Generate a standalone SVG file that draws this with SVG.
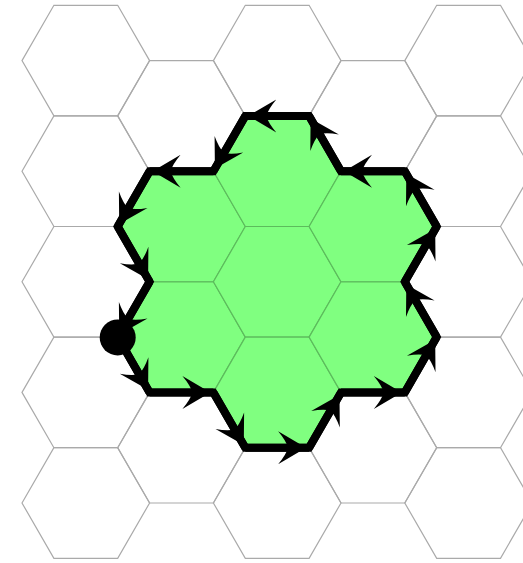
<svg xmlns="http://www.w3.org/2000/svg" xmlns:xlink="http://www.w3.org/1999/xlink" width="523" height="563" viewBox="0 0 523 563">
<style>
.cell{fill:none;stroke:#aaaaaa;stroke-width:1.2}
.green{fill:#80ff80;stroke:#5cbc5c;stroke-width:1.2}
.edge{stroke:#000;stroke-width:8;stroke-linecap:butt;marker-end:url(#ah)}
.outline{fill:none;stroke:#000;stroke-width:8;stroke-linejoin:miter}
</style>
<defs>
<polygon id="hx" points="-63.8,0 -31.9,-55.3 31.9,-55.3 63.8,0 31.9,55.3 -31.9,55.3"/>
<marker id="ah" markerUnits="userSpaceOnUse" orient="auto" refX="3" refY="0" markerWidth="10" markerHeight="10" overflow="visible">
<path d="M0,0 L-28,-16.5 Q-20,-7 -18,0 Q-20,7 -28,16.5 Z" fill="#000"/>
</marker>
</defs>
<rect width="523" height="563" fill="#fff"/>
<g id="grid">
<g id="h0-0"><use xlink:href="#hx" href="#hx" x="85.8" y="60.6" class="cell"/></g>
<g id="h0-1"><use href="#hx" x="85.8" y="171.2" class="cell"/></g>
<g id="h0-2"><use href="#hx" x="85.8" y="281.8" class="cell"/></g>
<g id="h0-3"><use href="#hx" x="85.8" y="392.4" class="cell"/></g>
<g id="h0-4"><use href="#hx" x="85.8" y="503" class="cell"/></g>
<g id="h1-0"><use href="#hx" x="181.5" y="115.9" class="cell"/></g>
<g id="h1-3"><use href="#hx" x="181.5" y="447.7" class="cell"/></g>
<g id="h2-0"><use href="#hx" x="277.2" y="60.6" class="cell"/></g>
<g id="h2-4"><use href="#hx" x="277.2" y="503" class="cell"/></g>
<g id="h3-0"><use href="#hx" x="372.9" y="115.9" class="cell"/></g>
<g id="h3-3"><use href="#hx" x="372.9" y="447.7" class="cell"/></g>
<g id="h4-0"><use href="#hx" x="468.6" y="60.6" class="cell"/></g>
<g id="h4-1"><use href="#hx" x="468.6" y="171.2" class="cell"/></g>
<g id="h4-2"><use href="#hx" x="468.6" y="281.8" class="cell"/></g>
<g id="h4-3"><use href="#hx" x="468.6" y="392.4" class="cell"/></g>
<g id="h4-4"><use href="#hx" x="468.6" y="503" class="cell"/></g>
</g>
<g id="region">
<g id="h1-1"><use href="#hx" x="181.5" y="226.5" class="green"/></g>
<g id="h1-2"><use href="#hx" x="181.5" y="337.1" class="green"/></g>
<g id="h2-1"><use href="#hx" x="277.2" y="171.2" class="green"/></g>
<g id="h2-2"><use href="#hx" x="277.2" y="281.8" class="green"/></g>
<g id="h2-3"><use href="#hx" x="277.2" y="392.4" class="green"/></g>
<g id="h3-1"><use href="#hx" x="372.9" y="226.5" class="green"/></g>
<g id="h3-2"><use href="#hx" x="372.9" y="337.1" class="green"/></g>
</g>
<g id="connectors">
<polygon class="outline" points="117.7,337.1 149.6,392.4 213.4,392.4 245.3,447.7 309.1,447.7 341,392.4 404.8,392.4 436.7,337.1 404.8,281.8 436.7,226.5 404.8,171.2 341,171.2 309.1,115.9 245.3,115.9 213.4,171.2 149.6,171.2 117.7,226.5 149.6,281.8"/>
<line class="edge" x1="117.7" y1="337.1" x2="149.6" y2="392.4"/>
<line class="edge" x1="149.6" y1="392.4" x2="213.4" y2="392.4"/>
<line class="edge" x1="213.4" y1="392.4" x2="245.3" y2="447.7"/>
<line class="edge" x1="245.3" y1="447.7" x2="309.1" y2="447.7"/>
<line class="edge" x1="309.1" y1="447.7" x2="341" y2="392.4"/>
<line class="edge" x1="341" y1="392.4" x2="404.8" y2="392.4"/>
<line class="edge" x1="404.8" y1="392.4" x2="436.7" y2="337.1"/>
<line class="edge" x1="436.7" y1="337.1" x2="404.8" y2="281.8"/>
<line class="edge" x1="404.8" y1="281.8" x2="436.7" y2="226.5"/>
<line class="edge" x1="436.7" y1="226.5" x2="404.8" y2="171.2"/>
<line class="edge" x1="404.8" y1="171.2" x2="341" y2="171.2"/>
<line class="edge" x1="341" y1="171.2" x2="309.1" y2="115.9"/>
<line class="edge" x1="309.1" y1="115.9" x2="245.3" y2="115.9"/>
<line class="edge" x1="245.3" y1="115.9" x2="213.4" y2="171.2"/>
<line class="edge" x1="213.4" y1="171.2" x2="149.6" y2="171.2"/>
<line class="edge" x1="149.6" y1="171.2" x2="117.7" y2="226.5"/>
<line class="edge" x1="117.7" y1="226.5" x2="149.6" y2="281.8"/>
<line class="edge" x1="149.6" y1="281.8" x2="117.7" y2="337.1"/>
</g>
<g id="start"><circle cx="117.7" cy="337.4" r="18" fill="#000"/></g>
</svg>
